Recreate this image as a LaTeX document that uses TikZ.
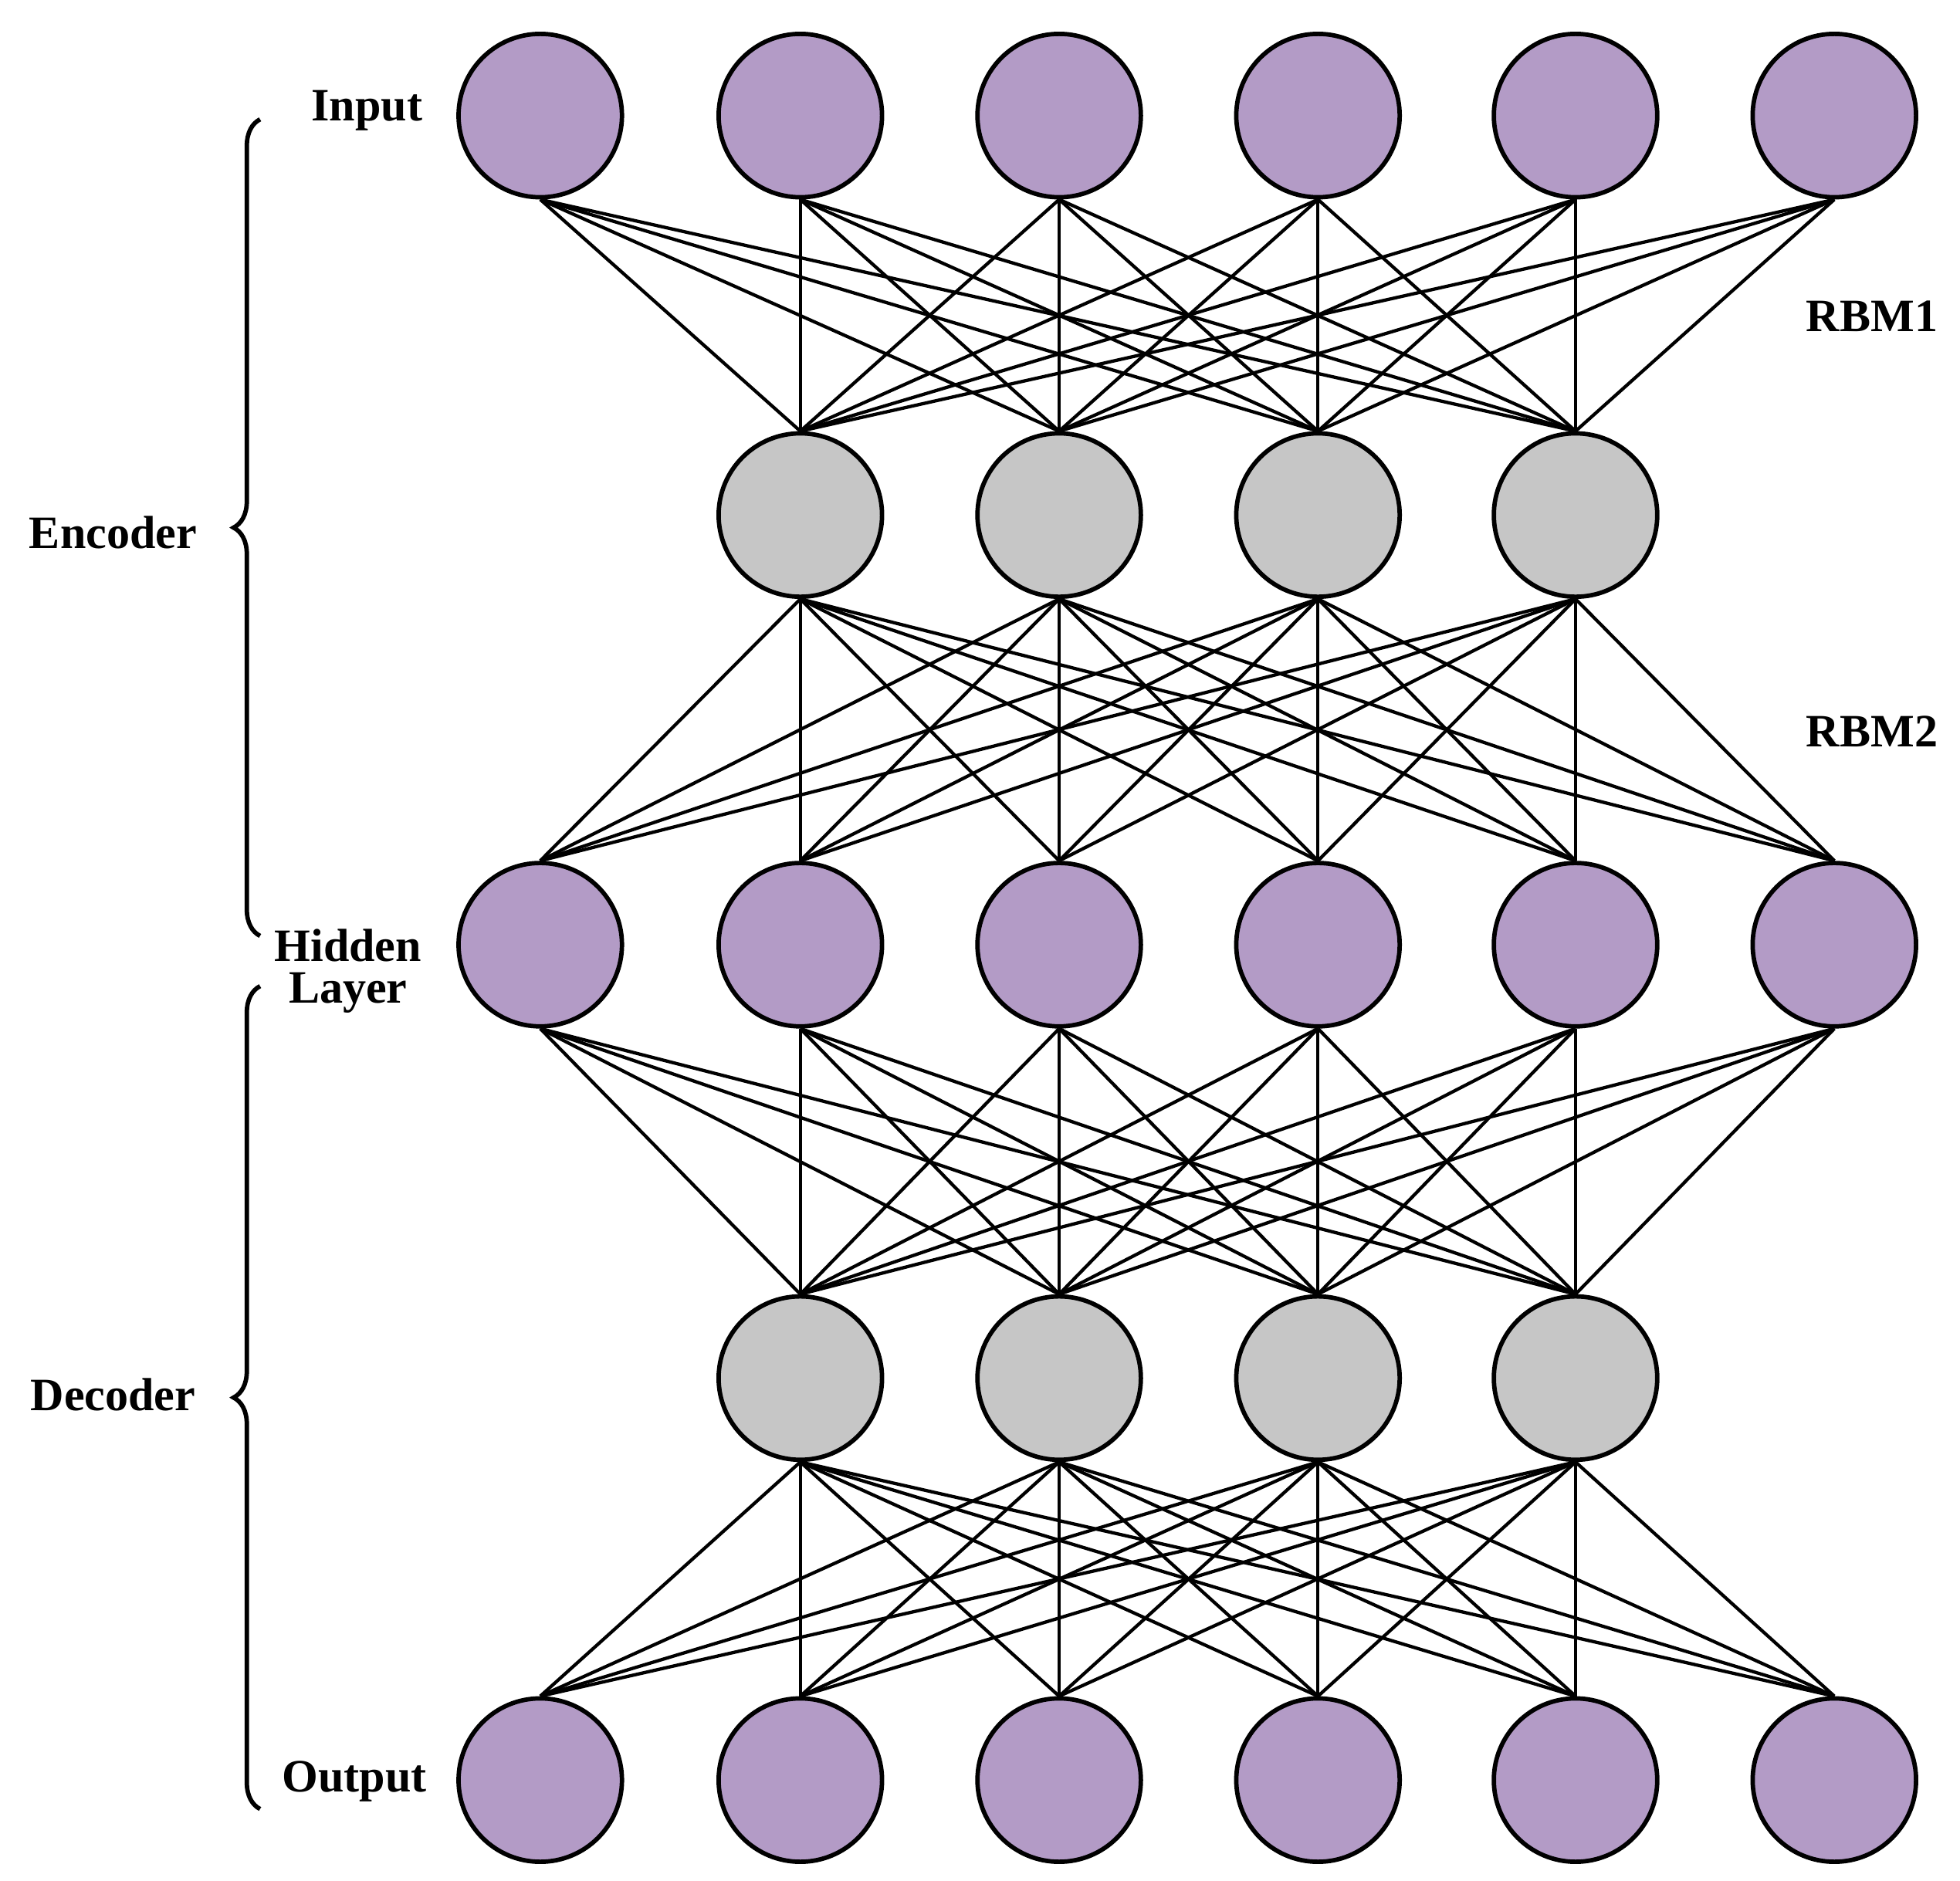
\documentclass[tikz,border=0pt]{standalone}
\usepackage{fontspec}
\setmainfont{Liberation Serif}
\usetikzlibrary{decorations.pathreplacing}
\definecolor{pur}{HTML}{B39BC6}
\definecolor{gry}{HTML}{C6C6C6}
\begin{document}
\begin{tikzpicture}[x=0.01cm,y=-0.01cm,
  neuron/.style={circle,draw=black,line width=1pt,minimum size=1.3cm,inner sep=0pt},
  vis/.style={neuron,fill=pur},
  hid/.style={neuron,fill=gry},
  link/.style={line width=0.75pt},
  lab/.style={font=\bfseries\fontsize{10.5}{12.5}\selectfont,align=center},
  br/.style={decorate,decoration={brace,amplitude=6pt},line width=1pt}]
\useasboundingbox (0,0) rectangle (1560,1497);
\foreach \x [count=\i] in {430,637,843,1049,1254,1460}{
  \node[vis] (a\i) at (\x,92) {};
  \node[vis] (c\i) at (\x,752) {};
  \node[vis] (e\i) at (\x,1417) {};
}
\foreach \x [count=\i] in {637,843,1049,1254}{
  \node[hid] (b\i) at (\x,410) {};
  \node[hid] (d\i) at (\x,1097) {};
}
\foreach \i in {1,...,6}{\foreach \j in {1,...,4}{
  \draw[link] (a\i.south) -- (b\j.north);
  \draw[link] (b\j.south) -- (c\i.north);
  \draw[link] (c\i.south) -- (d\j.north);
  \draw[link] (d\j.south) -- (e\i.north);
}}
\node[lab] (tin) at (292,88) {Input};
\node[lab] (thl) at (277,773) {Hidden\\[-3pt]Layer};
\node[lab] (tout) at (282,1418) {Output};
\node[lab] (r1) at (1490,252) {RBM1};
\node[lab] (r2) at (1490,582) {RBM2};
\node[lab] (tenc) at (90,424) {Encoder};
\node[lab] (tdec) at (90,1110) {Decoder};
\coordinate (eb1) at (207,745); \coordinate (eb2) at (207,95);
\coordinate (db1) at (207,1440); \coordinate (db2) at (207,785);
\draw[br] (eb1) -- (eb2);
\draw[br] (db1) -- (db2);
\end{tikzpicture}
\end{document}
